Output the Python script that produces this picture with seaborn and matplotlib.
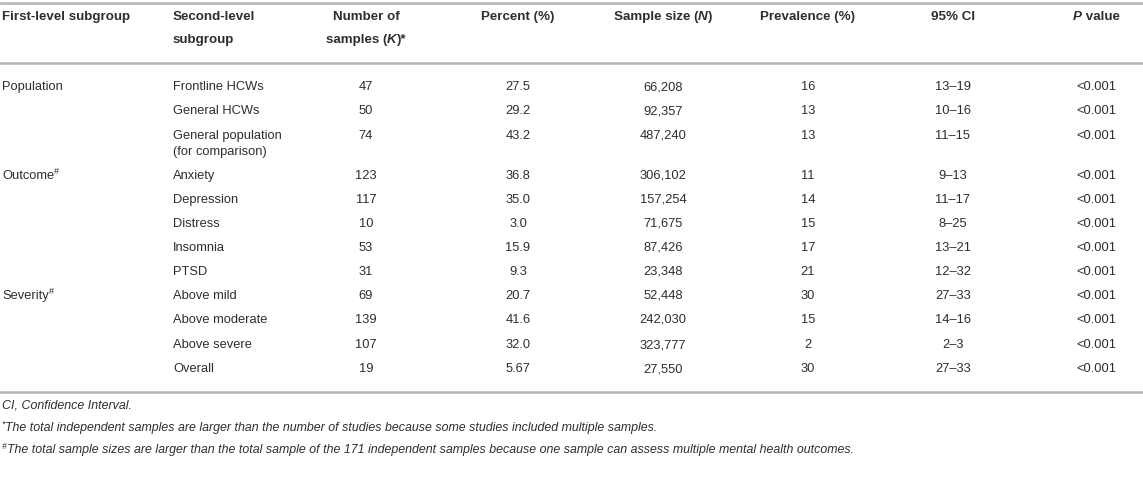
import matplotlib
matplotlib.use("Agg")
import matplotlib.pyplot as plt
import seaborn as sns

# ---------------- data ----------------
first_level = ["Population", "", "", "Outcome", "", "", "", "", "Severity", "", "", ""]
first_sup = ["", "", "", "#", "", "", "", "", "#", "", "", ""]
second_level = ["Frontline HCWs", "General HCWs", "General population\n(for comparison)",
                "Anxiety", "Depression", "Distress", "Insomnia", "PTSD",
                "Above mild", "Above moderate", "Above severe", "Overall"]
n_samples = ["47", "50", "74", "123", "117", "10", "53", "31", "69", "139", "107", "19"]
percent = ["27.5", "29.2", "43.2", "36.8", "35.0", "3.0", "15.9", "9.3", "20.7", "41.6", "32.0", "5.67"]
sample_size = ["66,208", "92,357", "487,240", "306,102", "157,254", "71,675", "87,426",
               "23,348", "52,448", "242,030", "323,777", "27,550"]
prevalence = ["16", "13", "13", "11", "14", "15", "17", "21", "30", "15", "2", "30"]
ci95 = ["13–19", "10–16", "11–15", "9–13", "11–17", "8–25", "13–21", "12–32",
        "27–33", "14–16", "2–3", "27–33"]
p_value = ["<0.001"] * 12
footnotes = [("", "CI, Confidence Interval."),
             ("*", "The total independent samples are larger than the number of studies because some studies included multiple samples."),
             ("#", "The total sample sizes are larger than the total sample of the 171 independent samples because one sample can assess multiple mental health outcomes.")]

# ---------------- style ----------------
sns.set_theme(style="white")
plt.rcParams["font.family"] = ["Liberation Sans", "DejaVu Sans"]
TXT = "#2e2e2e"
LINE = "#b4b4b4"
FS = 9.3
FSB = 9.6
FSF = 8.9

W, H = 1143, 488
fig = plt.figure(figsize=(W / 100, H / 100), dpi=100)
ax = fig.add_axes([0, 0, 1, 1])
ax.set_xlim(0, W)
ax.set_ylim(H, 0)
ax.axis("off")
fig.canvas.draw()
renderer = fig.canvas.get_renderer()


def width_of(s, **kw):
    t = ax.text(0, 0, s, **kw)
    bb = t.get_window_extent(renderer=renderer)
    t.remove()
    return bb.width


def runs(x, y, parts, ha="left"):
    """parts: list of (text, kwargs, dy). Draw pieces consecutively."""
    widths = [width_of(p[0], **p[1]) for p in parts]
    total = sum(widths)
    if ha == "center":
        x0 = x - total / 2
    elif ha == "right":
        x0 = x - total
    else:
        x0 = x
    for (s, kw, dy), w in zip(parts, widths):
        ax.text(x0, y + dy, s, ha="left", va="center", **kw)
        x0 += w


B = dict(fontsize=FSB, fontweight="bold", color=TXT)
BI = dict(fontsize=FSB, fontweight="bold", fontstyle="italic", color=TXT)
R = dict(fontsize=FS, color=TXT)
SUP = dict(fontsize=FS * 0.7, color=TXT)

# columns
x_first = 2
x_second = 173
x_cols = [366, 518, 663, 808, 953, 1096]

# rules
for yl in (3, 63, 392):
    ax.axhline(yl, color=LINE, lw=1.8, xmin=0, xmax=1)

# header
hy1, hy2 = 17, 40
ax.text(x_first, hy1, "First-level subgroup", ha="left", va="center", **B)
ax.text(x_second, hy1, "Second-level", ha="left", va="center", **B)
ax.text(x_second, hy2, "subgroup", ha="left", va="center", **B)
ax.text(x_cols[0], hy1, "Number of", ha="center", va="center", **B)
runs(x_cols[0], hy2, [("samples (", B, 0), ("K", BI, 0), (")*", B, 0)], ha="center")
ax.text(x_cols[1], hy1, "Percent (%)", ha="center", va="center", **B)
runs(x_cols[2], hy1, [("Sample size (", B, 0), ("N", BI, 0), (")", B, 0)], ha="center")
ax.text(x_cols[3], hy1, "Prevalence (%)", ha="center", va="center", **B)
ax.text(x_cols[4], hy1, "95% CI", ha="center", va="center", **B)
runs(x_cols[5], hy1, [("P", BI, 0), (" value", B, 0)], ha="center")

# body rows
row_y = [87, 111, 136, 176, 200, 224, 248, 272, 296, 320, 345, 369]
for i, y in enumerate(row_y):
    if first_level[i]:
        if first_sup[i]:
            runs(x_first, y, [(first_level[i], R, 0), (first_sup[i], SUP, -4)])
        else:
            ax.text(x_first, y, first_level[i], ha="left", va="center", **R)
    lines = second_level[i].split("\n")
    for j, ln in enumerate(lines):
        ax.text(x_second, y + j * 16.5, ln, ha="left", va="center", **R)
    for xc, col in zip(x_cols, [n_samples, percent, sample_size, prevalence, ci95, p_value]):
        ax.text(xc, y, col[i], ha="center", va="center", **R)

# footnotes
FI = dict(fontsize=FSF, fontstyle="italic", color=TXT)
FSUP = dict(fontsize=FSF * 0.7, fontstyle="italic", color=TXT)
for (sup, txt), y in zip(footnotes, (406, 428, 450)):
    if sup:
        runs(x_first, y, [(sup, FSUP, -3.5), (txt, FI, 0)])
    else:
        ax.text(x_first, y, txt, ha="left", va="center", **FI)

fig.savefig("out.png", dpi=100)
